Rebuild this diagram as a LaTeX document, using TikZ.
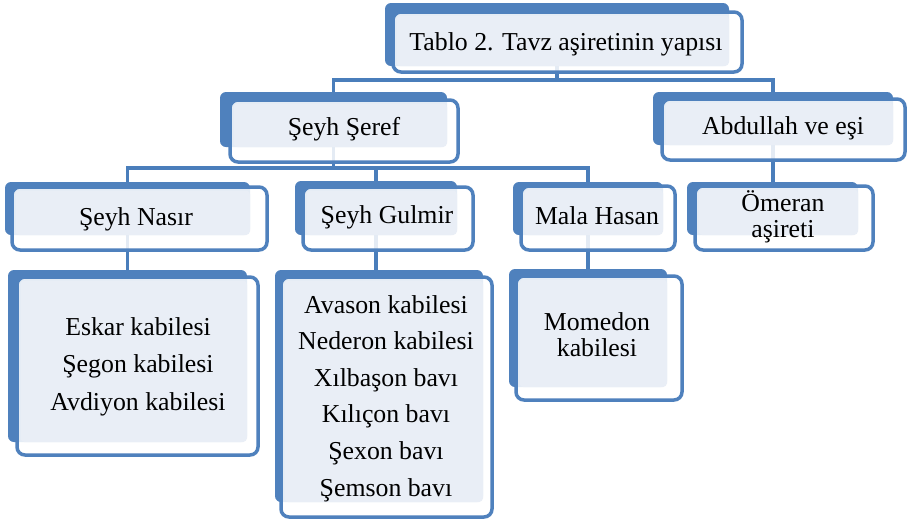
\documentclass[tikz,border=0pt]{standalone}
\usepackage{fontspec}
\setmainfont{Liberation Serif}
\usetikzlibrary{backgrounds}
\definecolor{sablue}{HTML}{4F81BD}
\definecolor{saconn}{HTML}{4A7EBB}
\definecolor{salight}{HTML}{E9EEF6}
\tikzset{
 backbox/.style={draw=none, fill=sablue, rounded corners=6pt, inner sep=0pt, outer sep=0pt},
 frontbox/.style={draw=sablue, line width=3.5pt, fill=white, fill opacity=0.85, draw opacity=1, rounded corners=8pt},
 lightbox/.style={fill=salight, rounded corners=4pt},
 conn/.style={draw=saconn, line width=3.4pt},
 lbl/.style={anchor=base, inner sep=0pt, outer sep=0pt, font=\fontsize{25.8}{37}\selectfont, text=black},
}
% #1 name, #2-#5 back rect corners, #6-#9 front rect corners
\newcommand\SmartBox[9]{%
 \node[backbox, minimum width={#4-#2}, minimum height={#5-#3}] (#1) at ({(#2+#4)/2},{(#3+#5)/2}) {};
 \path[frontbox] (#6,#7) rectangle (#8,#9);
 \path[lightbox] ({#6+3.5},{#7+3.5}) rectangle (#4,#5);
}
\newcommand\MyLines[2]{{\fontsize{25.8}{#1}\selectfont\begin{tabular}[t]{@{}c@{}}#2\end{tabular}}}
\begin{document}
\begin{tikzpicture}[x=1pt,y=-1pt]
\useasboundingbox (0,0) rectangle (908,523);

\SmartBox{top}{385}{3}{729}{66}{393}{12}{742}{72}
\SmartBox{seref}{220}{92}{447}{147}{230}{100}{458}{162}
\SmartBox{abd}{653}{92}{893}{145}{662}{99}{905}{160}
\SmartBox{nasir}{5}{182}{250}{235}{12}{187}{267}{250}
\SmartBox{gulmir}{295}{181}{457}{235}{303}{187}{473}{250}
\SmartBox{mala}{513}{182}{663}{235}{521}{186}{675}{250}
\SmartBox{omeran}{687}{182}{858}{235}{695}{186}{873}{250}
\SmartBox{eskar}{8}{270}{247}{442}{17}{277}{258}{455}
\SmartBox{kids}{275}{270}{483}{502}{281}{277}{492}{517}
\SmartBox{momedon}{509}{269}{667}{387}{516}{276}{682}{400}

\node[lbl] (t-top) at (566,50) {Tablo 2. Tavz aşiretinin yapısı};
\node[lbl] (t-seref) at (344,135) {Şeyh Şeref};
\node[lbl] (t-abd) at (783,134) {Abdullah ve eşi};
\node[lbl] (t-nasir) at (136,225) {Şeyh Nasır};
\node[lbl] (t-gulmir) at (387,223) {Şeyh Gulmir};
\node[lbl] (t-mala) at (597,224) {Mala Hasan};
\node[lbl] (t-omeran) at (783,211) {\MyLines{26}{Ömeran\\aşireti}};
\node[lbl] (t-eskar) at (138,335) {\MyLines{37.5}{Eskar kabilesi\\Şegon kabilesi\\Avdiyon kabilesi}};
\node[lbl] (t-kids) at (386,313) {\MyLines{36.6}{Avason kabilesi\\Nederon kabilesi\\Xılbaşon bavı\\Kılıçon bavı\\Şexon bavı\\Şemson bavı}};
\node[lbl] (t-momedon) at (597,330) {\MyLines{26}{Momedon\\kabilesi}};

\begin{scope}[on background layer]
 \fill[white] (0,0) rectangle (908,523);
 \draw[conn] (top.south) -- ++(0,14) -| (seref.north);
 \draw[conn] (top.south) -- ++(0,14) -| (abd.north);
 \draw[conn] (seref.south) -- ++(0,21) -| (nasir.north);
 \draw[conn] (seref.south) -- ++(0,21) -| (gulmir.north);
 \draw[conn] (seref.south) -- ++(0,21) -| (mala.north);
 \draw[conn] (abd.south) -- (abd.south |- omeran.north);
 \draw[conn] (nasir.south) -- (nasir.south |- eskar.north);
 \draw[conn] (gulmir.south) -- (gulmir.south |- kids.north);
 \draw[conn] (mala.south) -- (mala.south |- momedon.north);
\end{scope}
\end{tikzpicture}
\end{document}
